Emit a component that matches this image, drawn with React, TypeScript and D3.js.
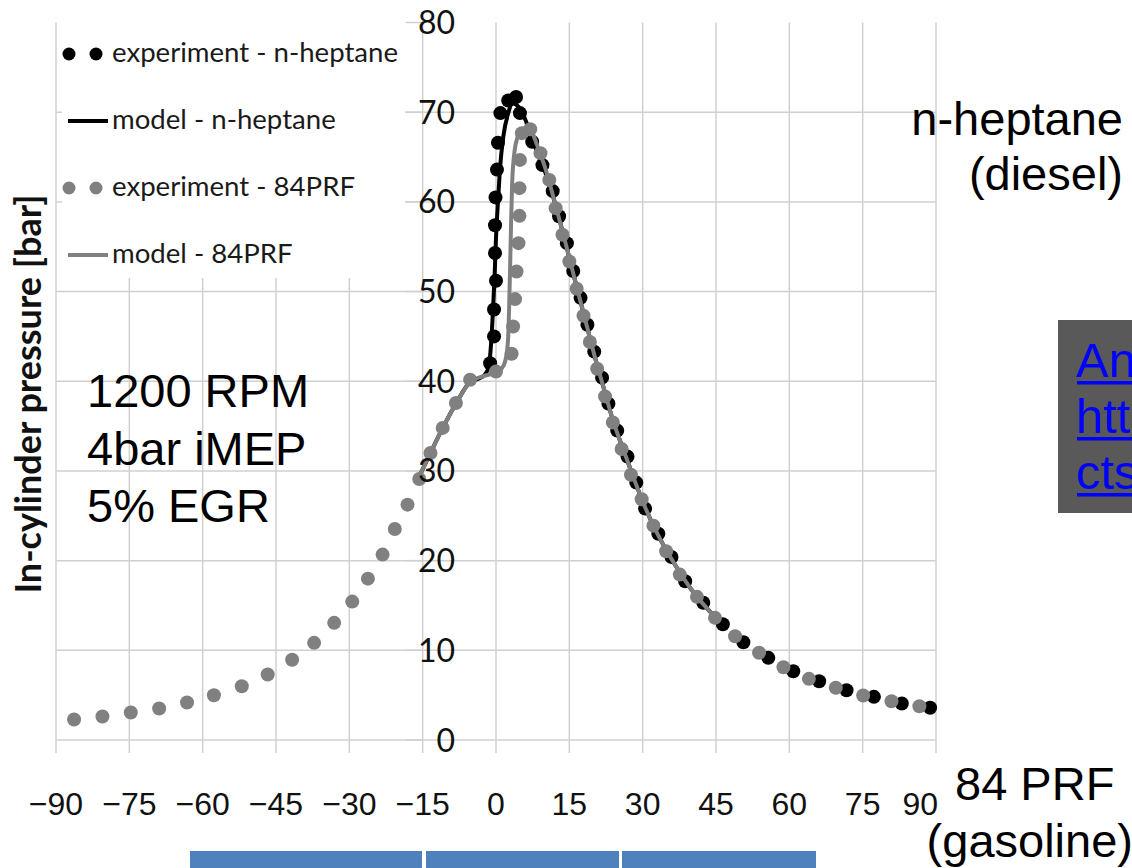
import React from 'react';
import * as d3 from 'd3';

type Pt = [number, number];

// Crank angle ticks [deg] and pressure ticks [bar]
const xTicks = [-90, -75, -60, -45, -30, -15, 0, 15, 30, 45, 60, 75, 90];
const yTicks = [0, 10, 20, 30, 40, 50, 60, 70, 80];

// experiment - n-heptane  [crank angle, pressure]
const heptaneExp: Pt[] = [
  [-1.2, 42.0], [-0.4, 45.0], [-0.4, 48.0], [0.0, 51.2], [-0.2, 54.3], [-0.2, 57.4],
  [-0.1, 60.5], [0.2, 63.6], [0.4, 66.6], [0.9, 69.9], [2.5, 71.3], [4.1, 71.7],
  [4.9, 69.9], [7.4, 66.7], [9.5, 64.1], [11.6, 61.2], [12.9, 58.4], [14.5, 55.4],
  [15.8, 52.3], [17.3, 49.3], [18.7, 46.3], [20.1, 43.3], [21.7, 40.4], [23.0, 37.5],
  [24.8, 34.5], [26.9, 31.6], [28.7, 28.7], [30.5, 25.8], [33.2, 23.0], [35.9, 20.4],
  [38.7, 17.7], [42.4, 15.3], [46.4, 12.9], [50.6, 10.9], [55.7, 9.16], [60.8, 7.67],
  [66.1, 6.55], [71.7, 5.55], [77.3, 4.81], [83.0, 4.07], [88.8, 3.59],
];

// experiment - 84PRF
const prfExp: Pt[] = [
  [-86.3, 2.28], [-80.5, 2.62], [-74.7, 3.06], [-68.9, 3.51], [-63.2, 4.18], [-57.7, 4.99],
  [-52.0, 5.99], [-46.7, 7.3], [-41.7, 8.94], [-37.2, 10.83], [-33.1, 13.06], [-29.4, 15.43],
  [-26.2, 17.99], [-23.2, 20.67], [-20.7, 23.53], [-18.1, 26.24], [-15.7, 29.1], [-13.4, 32.0],
  [-10.9, 34.8], [-8.2, 37.57], [-5.3, 40.17], [0.0, 41.09], [3.2, 43.06], [3.5, 46.1],
  [3.9, 49.16], [4.2, 52.23], [4.6, 55.4], [4.8, 58.44], [4.8, 61.53], [4.9, 64.68],
  [5.3, 67.66], [7.0, 68.1], [9.1, 65.43], [10.9, 62.45], [12.2, 59.3], [13.6, 56.34],
  [15.0, 53.35], [16.5, 50.31], [17.9, 47.3], [19.2, 44.37], [20.7, 41.39], [22.3, 38.31],
  [23.9, 35.41], [25.7, 32.45], [27.6, 29.58], [29.8, 26.85], [32.2, 23.9], [34.8, 21.04],
  [37.6, 18.44], [41.1, 15.96], [44.8, 13.62], [48.9, 11.57], [53.8, 9.72], [58.8, 8.11],
  [64.0, 6.82], [69.5, 5.82], [75.1, 4.96], [80.9, 4.32], [86.6, 3.77],
];

// model - n-heptane
const heptaneModel: Pt[] = [
  [-15.5, 29.6], [-13.4, 32.0], [-10.9, 34.8], [-8.2, 37.5], [-5.3, 39.9], [-3.5, 40.3],
  [-2.2, 40.8], [-1.5, 41.6], [-1.1, 43.5], [-0.7, 47.0], [-0.3, 51.5], [0.0, 56.0],
  [0.4, 60.0], [0.8, 63.6], [1.5, 67.3], [2.5, 69.9], [3.4, 71.0], [4.6, 70.6],
  [5.9, 69.3], [7.2, 67.4], [8.5, 65.4], [10, 63.4], [12, 60.0], [14, 55.9], [16, 51.6],
  [18, 47.4], [20, 43.15], [22, 39.3], [24, 35.5], [26, 32.45], [28, 29.45], [30, 26.6],
  [33, 23.0], [36, 20.1], [40, 16.75], [45, 13.6],
];

// model - 84PRF
const prfModel: Pt[] = [
  [-15.5, 29.6], [-13.4, 32.0], [-10.9, 34.8], [-8.2, 37.5], [-5.3, 39.9], [-3.0, 40.5],
  [-1.0, 40.8], [0.5, 41.1], [1.5, 41.7], [2.1, 42.8], [2.5, 45.0], [2.7, 48.5],
  [2.9, 53.0], [3.1, 58.0], [3.3, 62.0], [3.7, 65.2], [4.4, 67.2], [5.4, 68.1],
  [6.5, 68.3], [7.5, 67.6], [8.5, 66.2], [10, 63.9], [12, 60.0], [14, 55.9], [16, 51.6],
  [18, 47.4], [20, 43.15], [22, 39.3], [24, 35.5], [26, 32.45], [28, 29.45], [30, 26.6],
  [33, 23.0], [36, 20.1], [40, 16.75], [45, 13.6],
];

const legendLabels = ['experiment - n-heptane', 'model - n-heptane', 'experiment - 84PRF', 'model - 84PRF'];
const legendKinds = ['dots', 'line', 'dots', 'line'];
const legendColors = ['#000000', '#000000', '#808080', '#808080'];

const conditionLines = ['1200 RPM', '4bar iMEP', '5% EGR'];
const dieselLines = ['n-heptane', '(diesel)'];
const gasolineLines = ['84 PRF', '(gasoline)'];
const linkLines = ['An', 'htt', 'cts'];

const yTitle = 'In-cylinder pressure [bar]';

const CHART_FONT = 'Lato, "Open Sans", sans-serif';
const SLIDE_FONT = '"Liberation Sans", Arial, sans-serif';
const GRID = '#d0d0d0';
const GREY = '#808080';

export default function App() {
  const W = 1132;
  const H = 868;
  const x = d3.scaleLinear().domain([-90, 90]).range([56, 936]);
  const y = d3.scaleLinear().domain([0, 80]).range([740, 22.5]);
  const line = d3
    .line<Pt>()
    .x((d) => x(d[0]))
    .y((d) => y(d[1]))
    .curve(d3.curveMonotoneX);

  const fmt = (v: number) => (v < 0 ? '\u2212' + Math.abs(v) : String(v));
  const axisX = x(-15);
  const lastTick = xTicks[xTicks.length - 1];

  return (
    <svg
      width={W}
      height={H}
      viewBox={`0 0 ${W} ${H}`}
      style={{ position: 'absolute', left: 0, top: 0, overflow: 'hidden', background: '#fff' }}
    >
      <rect x={0} y={0} width={W} height={H} fill="#fff" />

      {/* vertical gridlines with tick marks below the axis */}
      {xTicks.map((t) => (
        <line key={'vg' + t} x1={x(t)} x2={x(t)} y1={y(80)} y2={y(0) + 13} stroke={GRID} strokeWidth={1.5} />
      ))}
      {/* horizontal gridlines */}
      {yTicks.filter((t) => t < 80).map((t) => (
        <line key={'hg' + t} x1={x(-90)} x2={x(90)} y1={y(t)} y2={y(t)} stroke={GRID} strokeWidth={1.5} />
      ))}
      {/* y-axis tick marks */}
      {yTicks.map((t) => (
        <line key={'yt' + t} x1={axisX - 17} x2={axisX} y1={y(t)} y2={y(t)} stroke={GRID} strokeWidth={1.5} />
      ))}

      {/* legend */}
      <rect x={62} y={0} width={343} height={278} fill="#fff" />
      {legendLabels.map((lab, i) => {
        const cy = 54 + i * 67;
        return (
          <g key={lab}>
            {legendKinds[i] === 'dots' ? (
              <>
                <circle cx={69} cy={cy} r={6.5} fill={legendColors[i]} />
                <circle cx={96} cy={cy} r={6.5} fill={legendColors[i]} />
              </>
            ) : (
              <line x1={68} x2={108} y1={cy} y2={cy} stroke={legendColors[i]} strokeWidth={4} />
            )}
            <text x={112} y={cy + 8} fontFamily={CHART_FONT} fontSize={27.6} fill="#1a1a1a">
              {lab}
            </text>
          </g>
        );
      })}

      {/* data */}
      {heptaneExp.map((d, i) => (
        <circle key={'he' + i} cx={x(d[0])} cy={y(d[1])} r={7} fill="#000" />
      ))}
      <path d={line(heptaneModel) || ''} fill="none" stroke="#000" strokeWidth={4} />
      {prfExp.map((d, i) => (
        <circle key={'pe' + i} cx={x(d[0])} cy={y(d[1])} r={7} fill={GREY} />
      ))}
      <path d={line(prfModel) || ''} fill="none" stroke={GREY} strokeWidth={4} />

      {/* y tick labels */}
      {yTicks.map((t) => (
        <text
          key={'yl' + t}
          x={455}
          y={y(t)}
          dy="0.36em"
          textAnchor="end"
          fontFamily={CHART_FONT}
          fontSize={32}
          fill="#111"
        >
          {t}
        </text>
      ))}

      {/* y title */}
      <text
        transform={`translate(41, 394) rotate(-90)`}
        textAnchor="middle"
        fontFamily={CHART_FONT}
        fontWeight={700}
        fontSize={36}
        fill="#111"
      >
        {yTitle}
      </text>

      {/* x tick labels (slide text) */}
      {xTicks.map((t) => (
        <text
          key={'xl' + t}
          x={t === lastTick ? x(t) + 2 : x(t)}
          y={815}
          textAnchor={t === lastTick ? 'end' : 'middle'}
          fontFamily={SLIDE_FONT}
          fontSize={32}
          fill="#111"
        >
          {fmt(t)}
        </text>
      ))}

      {/* operating conditions */}
      {conditionLines.map((s, i) => (
        <text key={s} x={87} y={407 + i * 57.5} fontFamily={SLIDE_FONT} fontSize={47} fill="#000">
          {s}
        </text>
      ))}

      {/* fuel labels */}
      {dieselLines.map((s, i) => (
        <text key={s} x={1123} y={135 + i * 55} textAnchor="end" fontFamily={SLIDE_FONT} fontSize={47} fill="#000">
          {s}
        </text>
      ))}
      <text x={955} y={800} fontFamily={SLIDE_FONT} fontSize={47} fill="#000">
        {gasolineLines[0]}
      </text>
      <text x={1133} y={857} textAnchor="end" fontFamily={SLIDE_FONT} fontSize={47} fill="#000">
        {gasolineLines[1]}
      </text>

      {/* grey link box */}
      <rect x={1058} y={320} width={W - 1058} height={193} fill="#595959" />
      {linkLines.map((s, i) => (
        <g key={s}>
          <text x={1076} y={377 + i * 56} fontFamily={SLIDE_FONT} fontSize={49} fill="#0000ff">
            {s}
          </text>
          <rect x={1077} y={381 + i * 56} width={W - 1077} height={3.5} fill="#0000ff" />
        </g>
      ))}

      {/* blue boxes at the bottom */}
      <rect x={190} y={851} width={232} height={20} fill="#4f81bd" />
      <rect x={426} y={851} width={193} height={20} fill="#4f81bd" />
      <rect x={622} y={851} width={194} height={20} fill="#4f81bd" />
    </svg>
  );
}
